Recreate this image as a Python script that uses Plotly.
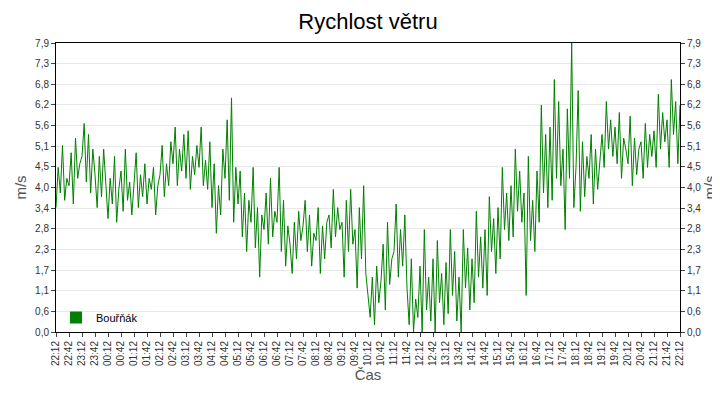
import plotly.graph_objects as go
import pandas as pd

speed = [
3.4,4.5,3.8,5.1,3.6,4.2, 4.0,4.9,3.5,5.3,4.2,4.6, 4.8,5.7,4.1,5.4,3.8,5.0, 4.3,3.4,4.8,3.7,5.0,4.0,
3.1,4.2,3.5,4.8,3.0,3.9, 4.4,3.3,5.0,3.6,4.1,3.2, 4.0,4.9,3.4,4.3,3.7,4.6, 3.5,4.2,3.9,4.5,3.2,4.0,
4.3,5.1,3.7,4.6,4.0,5.2, 4.6,5.6,4.0,5.0,4.4,5.4, 4.2,5.5,3.9,4.8,4.3,5.1, 4.5,5.6,4.0,4.7,3.9,5.2,
3.4,4.6,2.7,4.0,3.2,5.0, 4.2,5.8,3.6,6.4,3.0,4.5, 3.5,4.4,2.6,3.8,2.2,3.6, 3.0,4.5,2.3,3.4,1.5,3.2,
2.8,3.8,2.4,4.2,2.6,3.3, 3.0,4.5,2.2,3.6,1.8,2.9, 2.4,1.6,3.0,2.0,3.3,2.5, 2.9,3.6,2.2,3.2,1.8,2.7,
2.5,3.4,1.6,2.9,2.0,3.0, 3.2,2.3,3.9,2.6,3.4,2.8, 3.0,1.5,3.6,2.2,3.9,2.4, 2.8,1.2,3.4,2.0,4.0,1.6,
1.0,0.4,1.5,0.2,1.8,0.8, 1.4,2.4,0.6,3.0,1.3,2.0, 2.2,3.5,1.5,2.8,1.8,3.2, 1.2,0.2,2.0,0.0,0.9,0.4,
1.8,0.0,2.8,0.6,1.5,0.3, 2.0,0.0,2.5,0.8,1.6,0.2, 1.9,0.5,2.8,1.0,2.2,0.3, 1.5,0.0,2.8,1.2,2.3,0.6,
2.0,0.8,3.3,1.5,2.6,1.2, 2.8,1.0,3.7,2.2,3.1,1.6, 3.4,2.0,4.5,2.8,3.8,2.5, 4.0,2.6,5.0,3.3,4.4,3.0,
3.8,1.0,4.8,2.5,3.6,2.2, 4.4,3.0,6.2,3.8,5.4,3.4, 5.6,3.6,6.9,4.2,6.3,4.0, 5.0,2.8,6.1,4.2,7.9,3.4,
4.5,6.6,3.3,5.2,3.7,4.8, 4.2,5.4,3.5,5.0,3.9,4.6, 5.4,4.5,6.3,5.0,5.8,4.8, 5.6,4.6,6.0,4.2,5.3,5.0,
4.6,5.9,4.0,5.3,4.3,5.0, 5.2,4.2,5.7,4.5,5.4,4.8, 5.5,4.5,6.5,5.0,6.0,5.2, 5.8,4.5,6.9,5.4,6.3,4.6,
6.2]
times = pd.date_range("2024-01-01 22:12", periods=len(speed), freq="5min")
tick_times = pd.date_range("2024-01-01 22:12", "2024-01-02 22:12", freq="30min")
tick_labels = [t.strftime("%H:%M") for t in tick_times]
y_vals = [0, 0.564, 1.129, 1.693, 2.257, 2.821, 3.386, 3.95, 4.514, 5.079, 5.643, 6.207, 6.771, 7.336, 7.9]
y_labels = ["0,0","0,6","1,1","1,7","2,3","2,8","3,4","4,0","4,5","5,1","5,6","6,2","6,8","7,3","7,9"]

fig = go.Figure()
fig.add_trace(go.Scatter(x=times, y=speed, mode="lines", line=dict(color="#008000", width=1),
                         showlegend=False))
fig.add_trace(go.Scatter(x=[times[0]], y=[None], mode="markers", name="Bouřňák",
                         marker=dict(symbol="square", size=12, color="#008000")))
fig.add_trace(go.Scatter(x=[times[0]], y=[None], yaxis="y2", showlegend=False))
axfont = dict(family="Liberation Sans", size=10, color="#333")
yax = dict(range=[0, 7.9], tickvals=y_vals, ticktext=y_labels, tickfont=axfont,
           showgrid=True, gridcolor="#e8e8e8", ticks="outside", ticklen=4,
           showline=True, linecolor="black", zeroline=False,
           title=dict(text="m/s", font=dict(family="Liberation Sans", size=15, color="#555"), standoff=4))
fig.update_layout(
    width=720, height=400, margin=dict(l=48, r=48, t=35, b=76, autoexpand=False),
    paper_bgcolor="white", plot_bgcolor="white",
    title=dict(text="Rychlost větru", x=0.5, y=0.985, yanchor="top",
               font=dict(family="Liberation Sans", size=22, color="black")),
    xaxis=dict(range=[times[0], times[-1]], tickvals=tick_times, ticktext=tick_labels,
               tickangle=-90, tickfont=axfont, ticks="outside", ticklen=4,
               showgrid=False, showline=True, linecolor="black", mirror=True,
               title=dict(text="Čas", font=dict(family="Liberation Sans", size=15, color="#555"), standoff=4)),
    yaxis=yax,
    yaxis2=dict(yax, overlaying="y", side="right", showgrid=False),
    legend=dict(x=0.0, y=0.0, xanchor="left", yanchor="bottom", bgcolor="rgba(0,0,0,0)",
                font=dict(family="Liberation Sans", size=11, color="black")),
)
fig.write_html("out.html")
